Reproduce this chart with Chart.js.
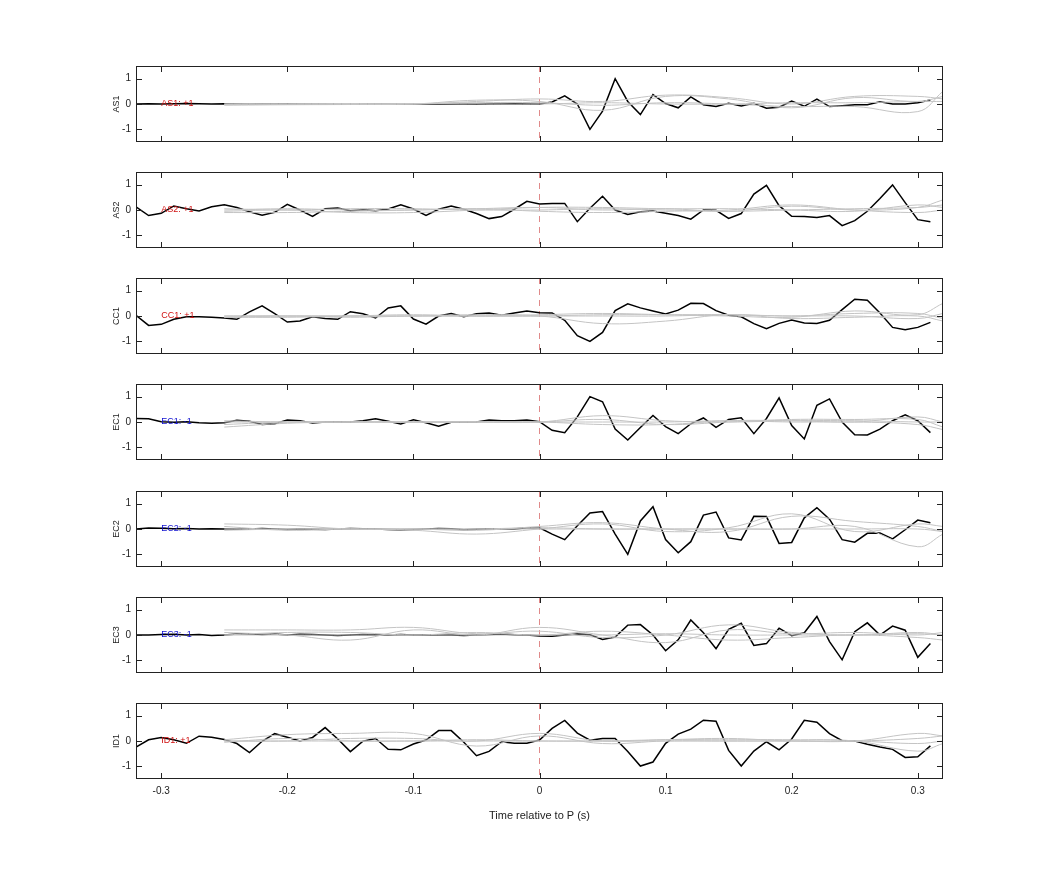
<!DOCTYPE html>
<html>
<head>
<meta charset="utf-8">
<script src="https://cdn.jsdelivr.net/npm/chart.js@4"></script>
<style>
  body { margin: 0; background: #fff; }
  canvas { position: absolute; }
</style>
</head>
<body>
<script>
// time axis of the black traces (every 10 ms)
const times = [];
for (let i = 0; i < 64; i++) times.push(Math.round((-0.32 + i * 0.01) * 100) / 100);
// time axis of the grey traces
const greyTimes = [-0.25, -0.2, -0.15, -0.1, -0.05, 0, 0.05, 0.1, 0.15, 0.2, 0.25, 0.3, 0.32];

const stations = ['AS1', 'AS2', 'CC1', 'EC1', 'EC2', 'EC3', 'ID1'];
const polarity = ['+1', '+1', '+1', '-1', '-1', '-1', '+1'];

const as1 = [0,0.01,0,0.01,0.02,0.01,0,0.01,0,-0.01,0,0,0.01,0,0,0.01,0,0,0.01,0,0,-0.01,0,0,0.01,0,0,-0.01,0,0,0.01,0,
  0,0.08,0.32,0,-1.0,-0.28,1.0,0.1,-0.42,0.37,0.02,-0.15,0.28,-0.03,-0.1,0.03,-0.08,0.03,-0.17,-0.13,0.12,-0.09,0.19,-0.1,-0.07,-0.03,-0.03,0.09,0,0,0.05,0.16];
const as2 = [0.12,-0.22,-0.13,0.16,0.05,-0.04,0.13,0.21,0.1,-0.07,-0.21,-0.09,0.22,0,-0.25,0.05,0.08,-0.03,0.01,-0.03,0.04,0.21,0.04,-0.21,0.03,0.16,0.03,-0.14,-0.34,-0.26,0.03,0.34,
  0.24,0.26,0.26,-0.46,0.07,0.54,0,-0.18,-0.07,-0.04,-0.13,-0.22,-0.36,0,-0.01,-0.33,-0.14,0.63,0.97,0.17,-0.25,-0.26,-0.3,-0.22,-0.62,-0.42,-0.05,0.45,0.99,0.29,-0.38,-0.46];
const cc1 = [0.03,-0.37,-0.33,-0.13,-0.03,-0.03,-0.05,-0.08,-0.13,0.16,0.4,0.09,-0.24,-0.2,-0.03,-0.1,-0.13,0.17,0.09,-0.08,0.32,0.4,-0.12,-0.32,0,0.1,-0.03,0.09,0.12,0.03,0.12,0.2,
  0.13,0.12,-0.17,-0.78,-1.0,-0.65,0.21,0.48,0.32,0.2,0.08,0.23,0.5,0.49,0.21,0.03,-0.03,-0.3,-0.5,-0.29,-0.16,-0.28,-0.3,-0.17,0.25,0.66,0.62,0.12,-0.45,-0.54,-0.45,-0.25];
const ec1 = [0.14,0.13,0.01,-0.01,0.01,-0.03,-0.05,-0.03,0.07,0.03,-0.1,-0.07,0.08,0.05,-0.04,0,0.01,0,0.05,0.13,0.03,-0.08,0.09,-0.03,-0.17,-0.01,-0.01,0,0.08,0.05,0.05,0.08,
  0.01,-0.33,-0.42,0.2,1.0,0.8,-0.28,-0.71,-0.22,0.26,-0.18,-0.46,-0.07,0.16,-0.21,0.1,0.17,-0.46,0.14,0.95,-0.14,-0.67,0.66,0.91,0,-0.5,-0.51,-0.28,0.05,0.28,0.05,-0.42];
const ec2 = [0,0.04,0.03,0.01,0.02,0,0.01,0,-0.01,0,0.02,0,-0.02,0,-0.01,-0.02,0,0.02,0.01,0,-0.02,-0.03,-0.02,0,0.02,0.01,-0.03,-0.01,0.01,0,0,0.05,
  0.05,-0.2,-0.42,0.13,0.63,0.69,-0.2,-1.0,0.32,0.88,-0.42,-0.94,-0.5,0.55,0.67,-0.35,-0.43,0.5,0.49,-0.57,-0.53,0.44,0.84,0.39,-0.42,-0.52,-0.17,-0.16,-0.39,-0.03,0.35,0.25];
const ec3 = [0,0,0.02,0.03,0,0.02,-0.02,0,0.04,0.05,0.02,0.04,0,0.03,0.02,0,-0.02,0,0.02,0.01,0,0.02,0,0.01,0,0,-0.02,0,0.02,0.04,0.01,0,
  -0.04,-0.05,0,0.04,0.01,-0.18,-0.08,0.39,0.41,0,-0.62,-0.19,0.59,0.09,-0.54,0.22,0.46,-0.41,-0.34,0.27,-0.03,0.09,0.73,-0.26,-0.98,0.13,0.48,0,0.35,0.19,-0.88,-0.34];
const id1 = [-0.24,0.05,0.14,0.05,-0.09,0.19,0.15,0.06,-0.1,-0.46,-0.01,0.29,0.15,0,0.14,0.53,0.08,-0.42,-0.01,0.1,-0.33,-0.35,-0.12,0.04,0.41,0.41,-0.05,-0.58,-0.41,-0.03,-0.09,-0.09,
  0.04,0.5,0.81,0.31,0.03,0.1,0.1,-0.41,-0.99,-0.83,-0.09,0.27,0.47,0.82,0.78,-0.37,-0.99,-0.4,-0.03,-0.35,0.08,0.82,0.74,0.29,0.01,0,-0.13,-0.24,-0.33,-0.65,-0.62,-0.19];
const blackSeries = [as1, as2, cc1, ec1, ec2, ec3, id1];

// grey traces, four per station, sampled at greyTimes
const greySeries = [
  [[-0.05,-0.03,-0.02,0,0.15,0.1,-0.25,0.3,0.2,-0.15,0.25,0.1,0.3],
   [0,0,0,0,0.05,0.05,-0.05,0.05,0,-0.1,-0.1,-0.3,0.5],
   [-0.02,0,0.02,0,0.1,0.2,0.1,0.35,0.25,0,0.3,0.3,0.2],
   [0,0,0,0.02,0,0,0.05,0,0,0.05,0.05,0.1,0.1]],
  [[-0.1,-0.1,-0.05,0,0.05,0.1,0,0.05,-0.05,0.15,0,0.1,0.4],
   [-0.05,0,-0.1,-0.1,0,0.1,0.1,0.05,0.05,0,-0.05,0.2,0.1],
   [0,0.05,0,0,0.05,-0.05,-0.1,-0.05,0,0.2,0,-0.1,0],
   [0.05,0,0.05,0.05,0,0,0.05,0,-0.05,0,0.05,0.1,0.2]],
  [[0,0,-0.05,0,0,0.05,0.1,0.05,0,-0.05,0.2,0.05,0.5],
   [-0.05,0,0,0,0.05,0,-0.3,-0.2,0.05,-0.1,-0.05,0,-0.2],
   [0,0,0,0,0,0,0.05,0.05,0.05,0,0,-0.1,0.1],
   [-0.05,-0.05,0,0.05,0,0,0,0,0.05,0,0.1,0.1,-0.1]],
  [[-0.2,-0.05,0,0,0,0,0.25,0.05,0,0.05,0.05,0,0],
   [0,0,0,0,0,0,0.1,-0.1,0,0.1,0.1,0.1,-0.2],
   [-0.1,0,0,0,0,0,-0.1,-0.1,0.05,0.05,0,0.2,0],
   [0.05,0,0,0,0,0,0,0,0.05,0,0,-0.1,-0.3]],
  [[0.2,0.15,0,0,-0.05,0.1,0.25,0,-0.1,0.5,0.3,0.1,-0.1],
   [0.1,-0.05,0,-0.05,-0.2,0,0.2,-0.1,0.05,0.6,-0.1,0.2,0.1],
   [-0.05,0,0,0,0,0.05,0,0,0,0,0.1,-0.7,-0.2],
   [0,0,0,0,0,0,0,0,0,0,0,0,-0.1]],
  [[0.2,0.2,0.2,0.3,0.05,0.15,-0.1,0,0.4,0.1,0,0.1,0],
   [0.1,0,-0.2,0.2,0,0.3,0,-0.3,0.2,0.05,0.1,0,0.1],
   [0,0.1,0.1,0,0.1,0,0.15,0,-0.2,-0.1,0,-0.1,-0.2],
   [0,0,0,0,0,0,0,0.05,0,0,0,0.05,0]],
  [[0.05,0.25,0.3,0.3,-0.2,0.2,-0.1,0,0,0,0,0.3,0.2],
   [0,0,0.1,0.1,0,0.3,0,0.05,0.1,0,0,-0.1,0],
   [-0.05,0.1,0,0,0.05,0,0,0.05,0.05,0.05,0,-0.4,-0.1],
   [0,0,0,0,0,0,0,0,0,0,0,0.1,0.2]]
];

const xTicks = [-0.3, -0.2, -0.1, 0, 0.1, 0.2, 0.3];
const yTicks = [-1, 0, 1];
const xTitle = 'Time relative to P (s)';

// box, inward ticks, tick labels, zero line and station label
const framePlugin = {
  id: 'frame',
  beforeDatasetsDraw(chart) {
    const { ctx, chartArea: a, scales: { x } } = chart;
    ctx.save();
    ctx.strokeStyle = '#e08a8a';
    ctx.setLineDash([6, 5]);
    ctx.lineWidth = 1;
    const x0 = x.getPixelForValue(0);
    ctx.beginPath(); ctx.moveTo(x0, a.top); ctx.lineTo(x0, a.bottom); ctx.stroke();
    ctx.restore();
  },
  afterDatasetsDraw(chart, args, opts) {
    const { ctx, chartArea: a, scales: { x, y } } = chart;
    ctx.save();
    ctx.strokeStyle = '#222';
    ctx.lineWidth = 1;
    ctx.strokeRect(a.left + 0.5, a.top + 0.5, a.right - a.left - 1, a.bottom - a.top - 1);
    ctx.beginPath();
    xTicks.forEach(t => {
      const px = Math.round(x.getPixelForValue(t)) + 0.5;
      ctx.moveTo(px, a.top); ctx.lineTo(px, a.top + 6);
      ctx.moveTo(px, a.bottom); ctx.lineTo(px, a.bottom - 6);
    });
    yTicks.forEach(t => {
      const py = Math.round(y.getPixelForValue(t)) + 0.5;
      ctx.moveTo(a.left, py); ctx.lineTo(a.left + 6, py);
      ctx.moveTo(a.right, py); ctx.lineTo(a.right - 6, py);
    });
    ctx.stroke();

    ctx.fillStyle = '#222';
    ctx.font = '10px "Liberation Sans", Arial, sans-serif';
    ctx.textBaseline = 'middle';
    ctx.textAlign = 'right';
    yTicks.forEach(t => ctx.fillText(String(t), a.left - 5, y.getPixelForValue(t)));
    ctx.save();
    ctx.translate(a.left - 19, y.getPixelForValue(0));
    ctx.rotate(-Math.PI / 2);
    ctx.textAlign = 'center';
    ctx.font = '9px "Liberation Sans", Arial, sans-serif';
    ctx.fillText(opts.name, 0, 0);
    ctx.restore();

    if (opts.last) {
      ctx.textAlign = 'center';
      xTicks.forEach(t => ctx.fillText(String(t), x.getPixelForValue(t), a.bottom + 12));
      ctx.font = '11px "Liberation Sans", Arial, sans-serif';
      ctx.fillText(xTitle, x.getPixelForValue(0), a.bottom + 37);
    }

    ctx.fillStyle = opts.color;
    ctx.font = '9px "Liberation Sans", Arial, sans-serif';
    ctx.textAlign = 'left';
    ctx.fillText(opts.name + ': ' + opts.pol, x.getPixelForValue(-0.3), y.getPixelForValue(0));
    ctx.restore();
  }
};

const panelTops = [66, 172, 278, 384, 491, 597, 703];
const panelH = 76;
const padL = 40;

stations.forEach((name, i) => {
  const last = i === stations.length - 1;
  const padB = last ? 50 : 0;
  const canvas = document.createElement('canvas');
  canvas.style.left = (136 - padL) + 'px';
  canvas.style.top = panelTops[i] + 'px';
  canvas.style.width = (943 - 136 + padL) + 'px';
  canvas.style.height = (panelH + padB) + 'px';
  document.body.appendChild(canvas);

  const datasets = greySeries[i].map(g => ({
    data: greyTimes.map((t, k) => ({ x: t, y: g[k] })),
    borderColor: '#c4c4c4', borderWidth: 1, pointRadius: 0, tension: 0.4
  }));
  datasets.push({
    data: times.map((t, k) => ({ x: t, y: blackSeries[i][k] })),
    borderColor: '#000', borderWidth: 1.5, pointRadius: 0, tension: 0
  });

  new Chart(canvas, {
    type: 'line',
    data: { datasets },
    options: {
      responsive: false,
      animation: false,
      clip: 0,
      layout: { padding: { left: padL, bottom: padB, top: 0, right: 0 } },
      plugins: {
        legend: { display: false },
        tooltip: { enabled: false },
        frame: { name, pol: polarity[i], last, color: polarity[i] === '+1' ? '#d01010' : '#1010d0' }
      },
      scales: {
        x: { type: 'linear', min: -0.32, max: 0.32, display: false },
        y: { min: -1.5, max: 1.5, display: false }
      }
    },
    plugins: [framePlugin]
  });
});
</script>
</body>
</html>
